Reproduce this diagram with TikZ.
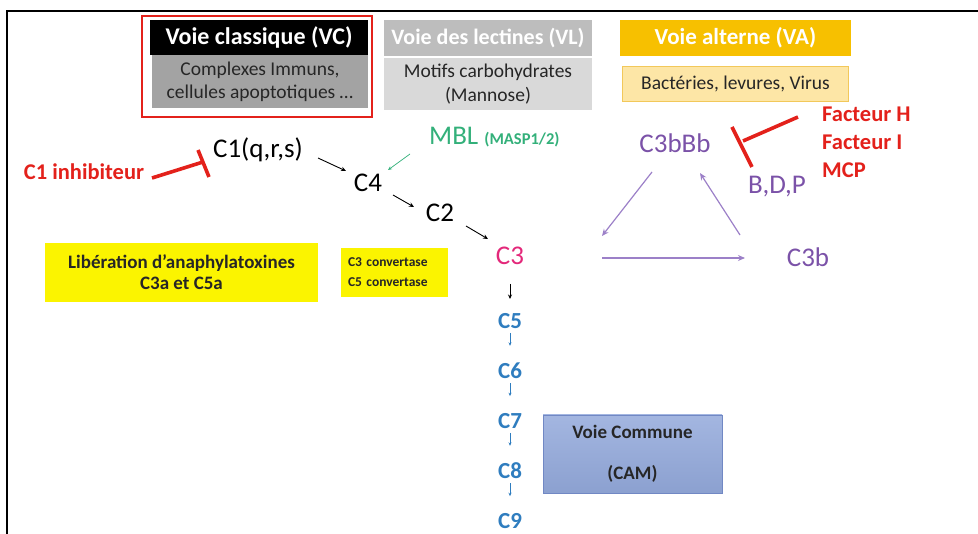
\documentclass[tikz,border=0pt]{standalone}
\usepackage{fontspec}
\setmainfont{Carlito}
\usetikzlibrary{arrows.meta}
\definecolor{redc}{HTML}{E3211B}
\definecolor{vcsub}{HTML}{A3A3A3}
\definecolor{vlhead}{HTML}{BDBDBD}
\definecolor{vlsub}{HTML}{D9D9D9}
\definecolor{vahead}{HTML}{F7C000}
\definecolor{vasub}{HTML}{FDE6A6}
\definecolor{vaedge}{HTML}{F2C85A}
\definecolor{mblc}{HTML}{33B07A}
\definecolor{purp}{HTML}{7B52A8}
\definecolor{purpl}{HTML}{9C80C8}
\definecolor{pinkc}{HTML}{E3287A}
\definecolor{bluec}{HTML}{2F7DBF}
\definecolor{yel}{HTML}{FBF400}
\definecolor{vcom}{HTML}{93A9DB}
\definecolor{vcomedge}{HTML}{7188C4}
\definecolor{txt}{HTML}{262626}
\begin{document}
\begin{tikzpicture}[x=1pt,y=-1pt,
  lbl/.style={inner sep=0pt, font=\fontsize{27}{30}\selectfont},
  hdr/.style={font=\bfseries\fontsize{23}{26}\selectfont, text=white, inner sep=0pt},
  subbox/.style={font=\fontsize{19.5}{23.5}\selectfont, align=center, inner sep=0pt, text=txt},
  arr/.style={-{Stealth[length=5pt,width=4.5pt]}, line width=0.9pt},
  parr/.style={-{Stealth[length=7pt,width=6pt]}, line width=1.2pt, draw=purpl},
  barr/.style={-{Stealth[length=3.5pt,width=3pt]}, line width=0.7pt, draw=bluec},
  inh/.style={draw=redc, line width=3.6pt},
  redtxt/.style={inner sep=0pt, text=redc, font=\bfseries\fontsize{22.5}{26}\selectfont},
  cblue/.style={inner sep=0pt, text=bluec, font=\bfseries\fontsize{23}{26}\selectfont},
]
\useasboundingbox (0,0) rectangle (978,534);
\draw[line width=1.2pt] (7,534) -- (7,11) -- (978,11);

% Voie classique
\node[draw=redc, line width=2.6pt, minimum width=230, minimum height=101, inner sep=0pt] (vcframe) at (257,66.5) {};
\node[fill=black, hdr, font=\bfseries\fontsize{24}{26}\selectfont, minimum width=218, minimum height=35] (vc) at (259,37.5) {Voie classique (VC)};
\node[fill=vcsub, subbox, minimum width=216, minimum height=53] (vcs) at (260,82) {Complexes Immuns,\\cellules apoptotiques \dots};

% Voie des lectines
\node[fill=vlhead, hdr, font=\bfseries\fontsize{22}{26}\selectfont, minimum width=208, minimum height=36] (vl) at (488,38) {Voie des lectines (VL)};
\node[fill=vlsub, subbox, minimum width=208, minimum height=52] (vls) at (488,84) {Motifs carbohydrates\\(Mannose)};

% Voie alterne
\node[fill=vahead, hdr, minimum width=231, minimum height=36] (va) at (735.5,38) {Voie alterne (VA)};
\node[fill=vasub, draw=vaedge, line width=0.6pt, subbox, minimum width=226, minimum height=35] (vas) at (735.5,84) {Bactéries, levures, Virus};

% Classical cascade
\node[lbl] (c1) at (258,150) {C1(q,r,s)};
\node[lbl] (c4) at (368,183) {C4};
\node[lbl] (c2) at (440,213) {C2};
\node[lbl, text=pinkc] (c3) at (510,256) {C3};
\coordinate (a1s) at (318,158);
\coordinate (a1e) at (346,171);
\coordinate (a2s) at (393,195);
\coordinate (a2e) at (414,207);
\coordinate (a3s) at (466,226);
\coordinate (a3e) at (488,239);
\draw[arr] (a1s) -- (a1e);
\draw[arr] (a2s) -- (a2e);
\draw[arr] (a3s) -- (a3e);

% C1 inhibiteur
\node[redtxt] (c1inh) at (84,172) {C1 inhibiteur};
\coordinate (i1a) at (152,178);
\coordinate (i1b) at (203,162);
\coordinate (i1c) at (198,150);
\coordinate (i1d) at (209,177);
\draw[inh] (i1a) -- (i1b);
\draw[inh] (i1c) -- (i1d);

% MBL
\node[lbl, text=mblc, anchor=west] (mbl) at (429,137) {MBL \bfseries\fontsize{16.5}{18}\selectfont(MASP1/2)};
\coordinate (m1) at (410,154);
\coordinate (m2) at (388,170);
\draw[-{Stealth[length=4pt,width=3.5pt]}, line width=0.7pt, draw=mblc] (m1) -- (m2);

% Alternative loop
\node[lbl, text=purp] (c3bbb) at (675,143) {C3bBb};
\node[lbl, text=purp] (bdp) at (777,187) {B,D,P};
\node[lbl, text=purp] (c3b) at (808,257) {C3b};
\coordinate (t1) at (652,172);
\coordinate (t2) at (602,236);
\coordinate (t3) at (740,235);
\coordinate (t4) at (700,173);
\coordinate (t5) at (602,258);
\coordinate (t6) at (745,258);
\draw[parr] (t1) -- (t2);
\draw[parr] (t3) -- (t4);
\draw[parr] (t5) -- (t6);

% Facteurs
\node[redtxt, anchor=west] (fh) at (822,114) {Facteur H};
\node[redtxt, anchor=west] (fi) at (822,142) {Facteur I};
\node[redtxt, anchor=west] (mcp) at (822,170) {MCP};
\coordinate (i2a) at (798,117);
\coordinate (i2b) at (743,141);
\coordinate (i2c) at (732,127);
\coordinate (i2d) at (752,167);
\draw[inh] (i2a) -- (i2b);
\draw[inh] (i2c) -- (i2d);

% Yellow boxes
\node[fill=yel, minimum width=273, minimum height=59, inner sep=0pt, align=center, font=\bfseries\fontsize{19}{21}\selectfont, text=txt] (lib) at (181.5,272.5) {Libération d’anaphylatoxines\\C3a et C5a};
\node[fill=yel, text width=93, inner xsep=7, inner ysep=0pt, minimum height=49, align=left, font=\bfseries\fontsize{13.5}{20}\selectfont, text=txt] (conv) at (394.5,272.5) {C3 convertase\\C5 convertase};

% Terminal pathway
\node[cblue] (c5) at (510,321) {C5};
\node[cblue] (c6) at (510,371) {C6};
\node[cblue] (c7) at (510,421) {C7};
\node[cblue] (c8) at (510,471) {C8};
\node[cblue] (c9) at (510,521) {C9};
\coordinate (d0) at (510,284);
\coordinate (d1) at (510,299);
\draw[-{Stealth[length=4.5pt,width=4pt]}, line width=0.9pt] (d0) -- (d1);
\draw[barr] (c5.south) ++(0,4) -- ++(0,13);
\draw[barr] (c6.south) ++(0,4) -- ++(0,13);
\draw[barr] (c7.south) ++(0,4) -- ++(0,13);
\draw[barr] (c8.south) ++(0,4) -- ++(0,13);

% Voie commune
\node[top color=vcom!85!white, bottom color=vcom!95!black, draw=vcomedge, line width=0.8pt, minimum width=179, minimum height=78, inner sep=0pt, align=center, font=\bfseries\fontsize{19}{41}\selectfont, text=txt] (vcomm) at (632.5,454) {Voie Commune\\(CAM)};
\end{tikzpicture}
\end{document}
